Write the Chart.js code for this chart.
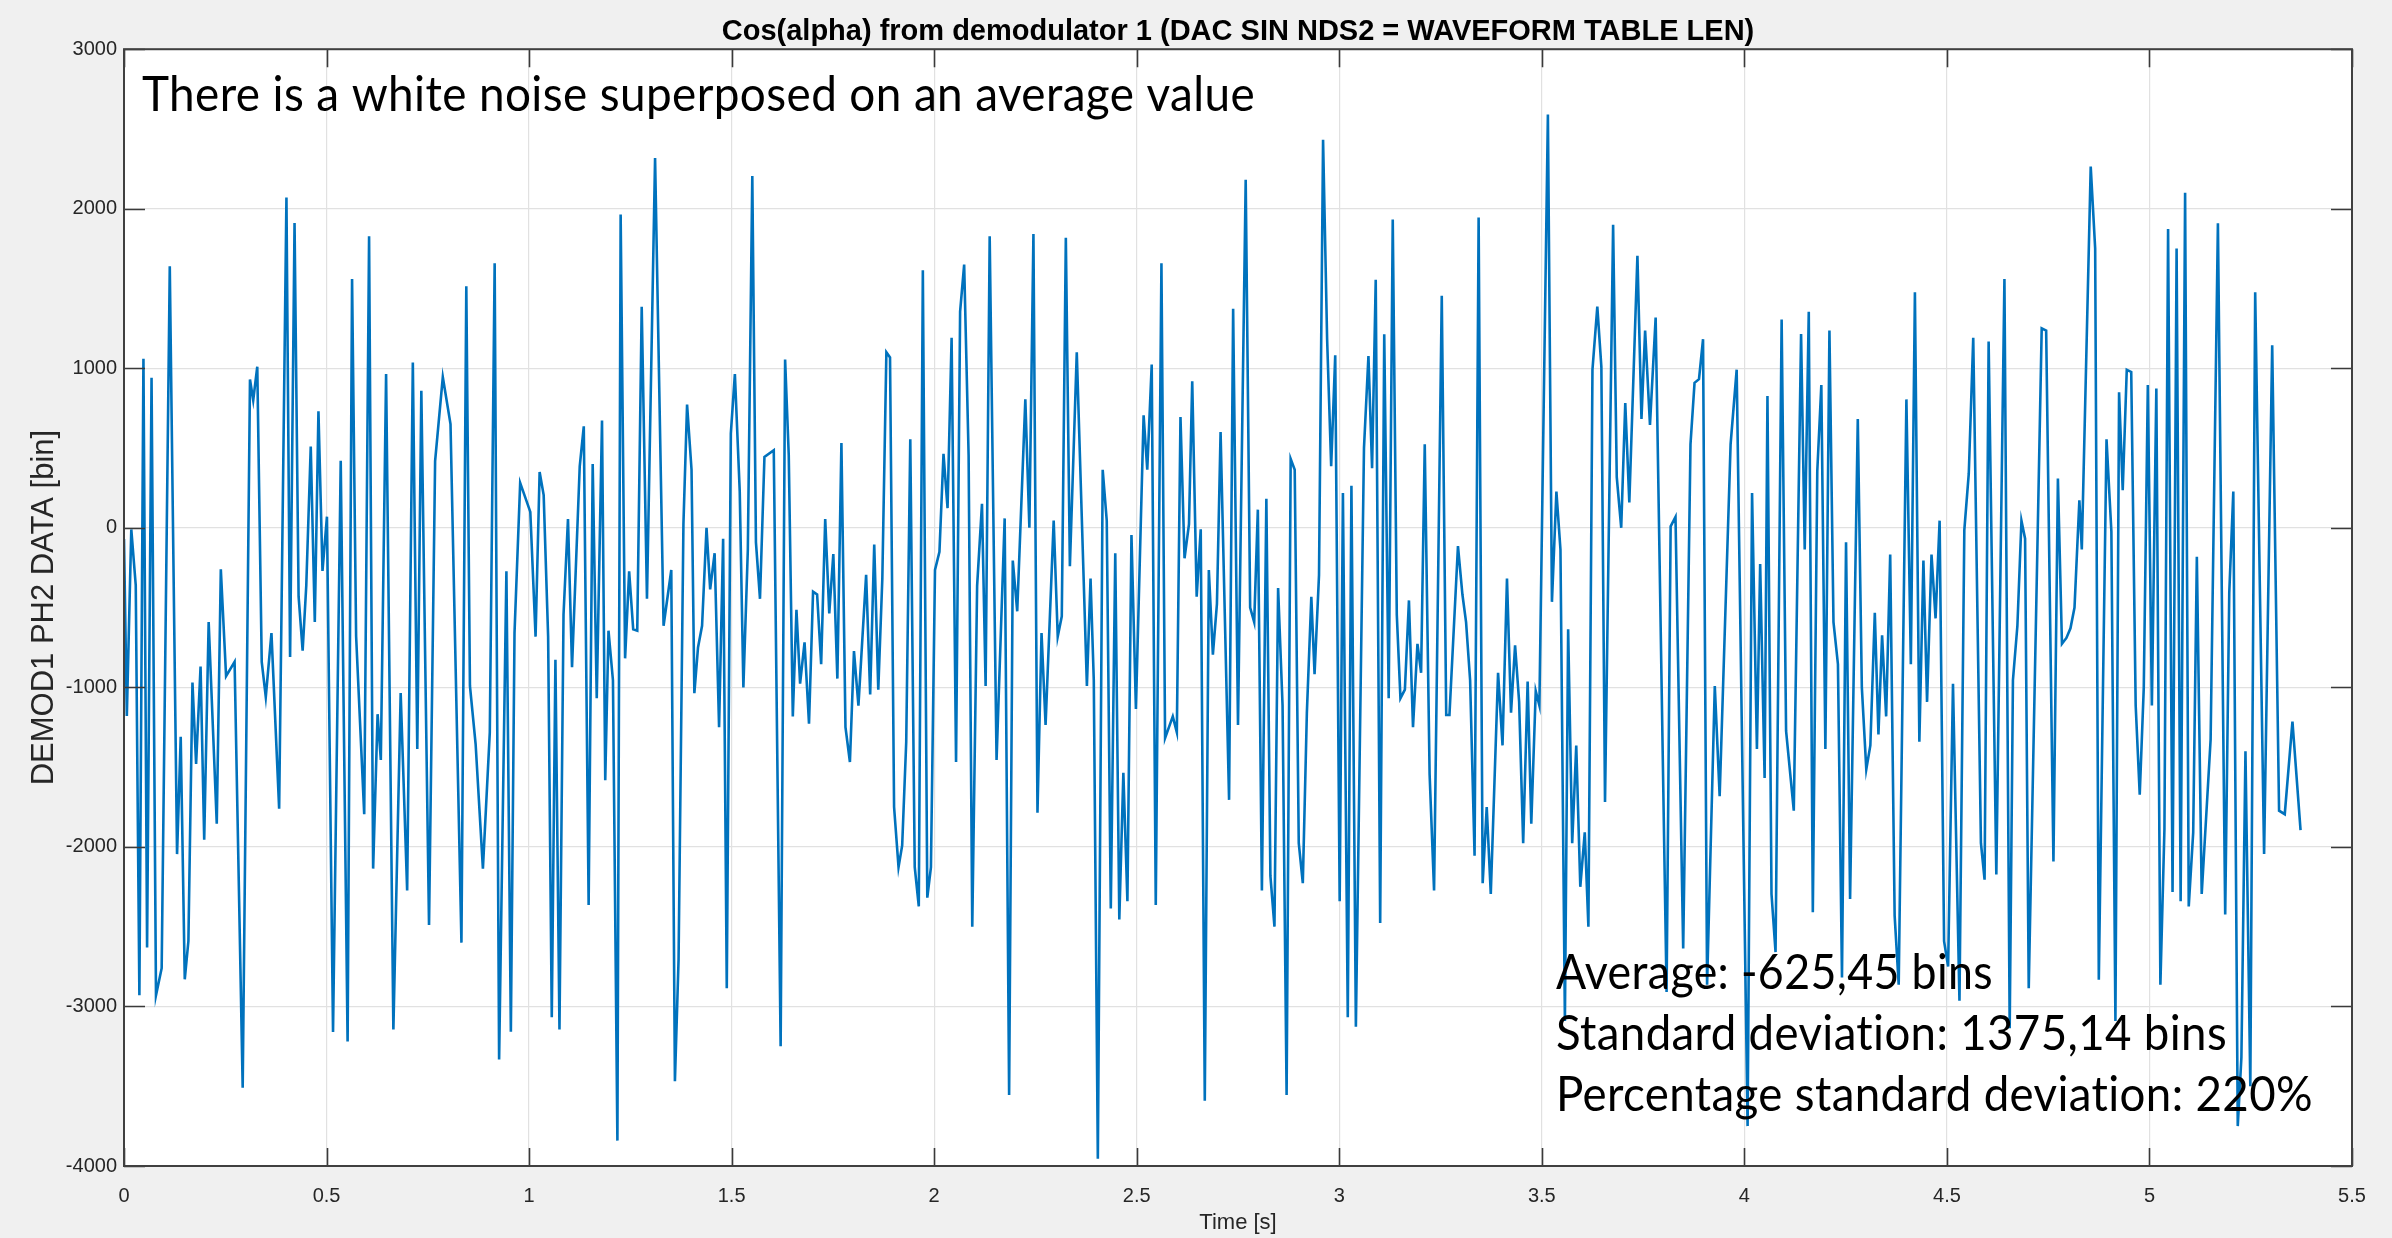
<!DOCTYPE html>
<html><head><meta charset="utf-8">
<script src="https://cdn.jsdelivr.net/npm/chart.js@4/dist/chart.umd.min.js"></script>
<style>
html,body{margin:0;padding:0;background:#f0f0f0;overflow:hidden;}
#wrap{position:relative;width:2392px;height:1238px;}
canvas{display:block;}
</style></head><body>
<div id="wrap"><canvas id="c" width="2392" height="1238"></canvas></div>
<script>
const titleText = 'Cos(alpha) from demodulator 1 (DAC SIN NDS2 = WAVEFORM TABLE LEN)';
const xLabel = 'Time [s]';
const yLabel = 'DEMOD1 PH2 DATA [bin]';
const xTicks = [0, 0.5, 1, 1.5, 2, 2.5, 3, 3.5, 4, 4.5, 5, 5.5];
const yTicks = [-4000, -3000, -2000, -1000, 0, 1000, 2000, 3000];
const noteTop = 'There is a white noise superposed on an average value';
const statLines = ['Average: -625,45 bins', 'Standard deviation: 1375,14 bins', 'Percentage standard deviation: 220%'];

const time = [
0.000,0.007,0.018,0.029,0.038,0.048,0.057,0.068,0.079,0.093,0.113,0.131,0.140,0.150,0.159,0.169,0.178,0.189,0.198,0.209,
0.229,0.239,0.252,0.273,0.293,0.311,0.319,0.329,0.340,0.350,0.364,0.383,0.401,0.410,0.421,0.431,0.441,0.450,0.461,0.471,
0.480,0.490,0.501,0.516,0.535,0.552,0.563,0.573,
0.593,0.605,0.615,0.626,0.634,0.647,0.665,0.683,0.699,0.713,0.724,0.734,0.753,0.768,0.787,0.806,0.833,0.845,0.854,0.868,
0.886,0.903,0.915,0.926,0.944,0.955,0.964,0.978,1.003,1.016,1.026,1.036,1.047,1.056,1.065,1.075,1.085,1.096,1.106,1.125,
1.135,1.147,1.157,1.167,1.180,1.188,1.196,
1.207,1.218,1.226,1.237,1.247,1.257,1.267,1.278,1.291,1.311,1.332,1.351,1.360,1.369,1.381,1.390,1.401,1.408,1.417,1.427,
1.438,1.447,1.458,1.469,1.479,1.488,1.498,1.508,1.520,1.529,1.540,1.551,1.560,1.570,1.581,1.604,1.621,1.632,1.641,1.651,
1.660,1.669,1.680,1.691,1.701,1.711,1.721,1.731,1.741,1.751,1.761,1.771,1.781,1.792,1.802,
1.813,1.832,1.842,1.852,1.862,1.872,1.882,1.891,1.901,1.912,1.921,1.931,1.941,1.952,1.962,1.972,1.983,1.992,2.002,2.013,
2.023,2.033,2.043,2.054,2.064,2.074,2.085,2.094,2.106,2.118,2.127,2.137,2.154,2.174,2.185,2.194,2.205,2.225,2.235,2.245,
2.255,2.265,2.275,2.295,2.305,2.315,2.325,2.335,2.352,2.377,2.386,2.394,2.404,
2.416,2.426,2.436,2.447,2.457,2.467,2.477,2.487,2.498,2.517,2.526,2.537,2.547,2.561,2.570,2.589,2.599,2.608,2.618,2.629,
2.637,2.648,2.658,2.668,2.678,2.688,2.698,2.707,2.728,2.738,2.750,2.769,2.780,2.790,2.799,2.809,2.820,2.830,2.840,2.849,
2.860,2.870,2.880,2.890,2.900,2.910,2.920,2.931,2.939,2.950,2.960,2.970,2.980,2.990,3.001,
3.009,3.021,3.030,3.041,3.061,3.072,3.081,3.090,3.101,3.111,3.122,3.132,3.142,3.151,3.162,3.172,3.182,3.193,3.202,3.211,
3.223,3.234,3.253,3.264,3.272,3.293,3.304,3.313,3.323,3.334,3.344,3.354,3.364,3.374,3.392,3.403,3.414,3.424,3.434,3.444,
3.454,3.465,3.474,3.485,3.494,3.515,3.525,3.536,3.546,3.557,3.565,3.575,3.585,3.595,
3.606,3.615,3.625,3.637,3.647,3.656,3.676,3.685,3.696,3.706,3.716,3.736,3.746,3.755,3.767,3.781,3.808,3.818,3.830,3.849,
3.867,3.877,3.888,3.898,3.908,3.927,3.939,3.966,3.981,4.008,4.019,4.031,4.039,4.050,4.057,4.067,4.077,4.092,4.103,4.122,
4.140,4.149,4.159,4.169,4.180,4.190,4.200,4.210,
4.220,4.231,4.241,4.251,4.261,4.280,4.290,4.301,4.311,4.322,4.331,4.340,4.350,4.360,4.371,4.381,4.400,4.411,4.421,4.432,
4.442,4.451,4.462,4.472,4.482,4.493,4.503,4.515,4.531,4.543,4.554,4.565,4.584,4.593,4.603,4.622,4.642,4.655,4.663,4.674,
4.684,4.693,4.702,4.734,4.745,4.763,4.774,4.784,4.795,4.805,4.815,
4.827,4.833,4.855,4.866,4.875,4.894,4.906,4.916,4.925,4.934,4.944,4.955,4.966,4.976,4.986,4.996,5.006,5.017,5.027,5.037,
5.046,5.057,5.067,5.077,5.088,5.097,5.108,5.117,5.129,5.151,5.169,5.187,5.197,5.207,5.218,5.227,5.237,5.249,5.261,5.283,
5.303,5.320,5.334,5.353,5.373
];

const demod = [
-70,-1180,-10,-360,-2930,1060,-2630,940,-2930,-2760,1640,-2045,-1310,-2830,-2590,-970,-1480,-870,-1955,-590,
-1855,-260,-930,-840,-3510,930,800,1010,-840,-1060,-660,-1760,2070,-810,1910,-430,-770,-360,510,-590,
730,-270,70,-3160,420,-3220,1560,-680,
-1795,1827,-2136,-1168,-1455,964,-3145,-1036,-2273,1036,-1386,859,-2490,418,945,650,-2600,1514,-991,-1355,
-2136,-1282,1659,-3332,-273,-3159,-659,282,100,-682,350,205,-682,-3068,-827,-3145,-545,55,-873,386,
636,-2364,400,-1068,673,-1582,-645,
-955,-3841,1964,-818,-273,-636,-645,1386,-445,2318,-614,-264,-3468,-2705,23,773,364,-1036,-750,-614,
0,-386,-159,-1250,-68,-2886,591,964,227,-1000,-136,2205,-91,-445,445,486,-3250,1055,455,-1182,
-514,-977,-718,-1227,-400,-418,-855,55,-536,-164,-945,532,-1250,-1468,-773,
-1114,-295,-1045,-105,-1014,-318,1100,1068,-1750,-2127,-1991,-1341,555,-2127,-2373,1614,-2318,-2127,-264,-150,
464,123,1191,-1468,1355,1650,455,-2500,-364,150,-991,1827,-1455,59,-3555,-205,-523,805,0,1841,
-1786,-659,-1236,45,-682,-555,1818,-241,1100,-991,-318,-955,-3955,
364,45,-2386,-159,-2455,-1536,-2341,-45,-1136,705,364,1023,-2364,1659,-1318,-1182,-1282,695,-191,23,
918,-432,-9,-3591,-264,-795,-477,600,-1705,1373,-1236,2182,-500,-591,114,-2273,182,-2182,-2500,-377,
-1114,-3555,432,364,-1977,-2227,-1159,-432,-918,-295,2432,1182,386,1082,-2341,
218,-3068,264,-3127,500,1077,373,1555,-2477,1214,-1068,1932,-545,-1068,-1014,-455,-1250,-727,-909,523,
-1545,-2273,1455,-1173,-1173,-114,-418,-591,-955,-2055,1945,-2227,-1750,-2295,-909,-1364,-318,-1159,-736,-1091,
-1977,-964,-1855,-1023,-1114,2591,-464,227,-136,-3091,-636,-1977,-1364,-2250,
-1909,-2500,991,1386,1009,-1718,1900,318,0,782,159,1705,682,1236,645,1318,-2909,9,68,-2636,
523,909,932,1182,-2864,-991,-1682,523,991,-3750,218,-1386,-227,-1568,827,-2295,-2659,1305,-1273,-1773,
1214,-136,1355,-2409,355,895,-1386,1236,
-591,-855,-2818,-91,-2327,682,-1000,-1514,-1364,-532,-1295,-673,-1182,-168,-2432,-2864,805,-855,1477,-1341,
-205,-1091,-168,-568,45,-2591,-2750,-977,-2964,-14,341,1191,-1977,-2205,1168,-2173,1559,-3136,-955,-614,
45,-68,-2886,1250,1236,-2091,309,-727,-690,-630,-500,
173,-136,2264,1750,-2832,555,-23,-3091,850,236,991,977,-1114,-1673,-1000,895,-1114,873,-2864,-1886,
1873,-2282,1750,-2341,2100,-2373,-1909,-182,-2295,-1327,1909,-2423,-409,227,-3750,-3318,-1400,-3500,1477,-2045,
1145,-1773,-1795,-1214,-1895
];

const points = time.map((t, i) => ({x: t, y: demod[i]}));

const MATLAB_FONT = 'Liberation Sans, Arial, Helvetica, sans-serif';

const boxPlugin = {
  id: 'matlabBox',
  beforeDraw(chart) {
    const {ctx, chartArea: a} = chart;
    ctx.save();
    ctx.fillStyle = '#ffffff';
    ctx.fillRect(a.left, a.top, a.right - a.left, a.bottom - a.top);
    ctx.restore();
  },
  afterDatasetsDraw(chart) {
    const {ctx, chartArea: a, scales} = chart;
    const xs = scales.x, ys = scales.y;
    const xtl = 18, ytl = 21;
    ctx.save();
    ctx.strokeStyle = '#3a3a3a';
    ctx.lineWidth = 1.6;
    ctx.beginPath();
    xs.ticks.forEach(t => {
      const px = Math.round(xs.getPixelForValue(t.value)) + 0.5;
      ctx.moveTo(px, a.bottom); ctx.lineTo(px, a.bottom - xtl);
      ctx.moveTo(px, a.top); ctx.lineTo(px, a.top + xtl);
    });
    ys.ticks.forEach(t => {
      const py = Math.round(ys.getPixelForValue(t.value)) + 0.5;
      ctx.moveTo(a.left, py); ctx.lineTo(a.left + ytl, py);
      ctx.moveTo(a.right, py); ctx.lineTo(a.right - ytl, py);
    });
    ctx.stroke();
    ctx.lineWidth = 2;
    ctx.strokeStyle = '#404040';
    ctx.strokeRect(a.left, a.top, a.right - a.left, a.bottom - a.top);
    ctx.restore();
  }
};

function fitText(ctx, text, x, baseline, targetW, size) {
  ctx.font = size + 'px Lato, "Open Sans", sans-serif';
  if ('letterSpacing' in ctx) ctx.letterSpacing = '0.4px';
  const w = ctx.measureText(text).width;
  ctx.save();
  ctx.translate(x, baseline);
  ctx.scale(targetW / w, 1);
  ctx.fillText(text, 0, 0);
  ctx.restore();
}

const notesPlugin = {
  id: 'notes',
  afterDraw(chart) {
    const ctx = chart.ctx;
    ctx.save();
    ctx.fillStyle = '#000000';
    ctx.textAlign = 'left';
    ctx.textBaseline = 'alphabetic';
    fitText(ctx, noteTop, 142, 111, 1113, 49);
    const widths = [437, 671, 757];
    const bases = [989, 1050, 1111];
    statLines.forEach((s, i) => fitText(ctx, s, 1556, bases[i], widths[i], 49));
    ctx.restore();
  }
};

new Chart(document.getElementById('c'), {
  type: 'line',
  data: {
    datasets: [{
      data: points,
      borderColor: '#0072BD',
      borderWidth: 2.6,
      pointRadius: 0,
      tension: 0,
      fill: false
    }]
  },
  options: {
    responsive: false,
    animation: false,
    devicePixelRatio: 1,
    layout: {padding: {left: 0, right: 40, top: 0, bottom: 0}},
    plugins: {
      legend: {display: false},
      tooltip: {enabled: false},
      title: {
        display: true,
        fullSize: false,
        text: titleText,
        color: '#000000',
        font: {family: MATLAB_FONT, size: 29, weight: 'bold'},
        padding: {top: 14.4, bottom: 0}
      }
    },
    scales: {
      x: {
        type: 'linear',
        min: 0, max: 5.5,
        afterBuildTicks: s => { s.ticks = xTicks.map(v => ({value: v})); },
        afterFit: s => { s.height = 72; },
        ticks: {
          color: '#262626',
          font: {family: MATLAB_FONT, size: 20},
          padding: 18,
          maxRotation: 0,
          autoSkip: false,
          callback: v => String(v)
        },
        grid: {color: '#e1e1e1', lineWidth: 1.2, drawTicks: false},
        border: {display: false},
        title: {
          display: true, text: xLabel, color: '#262626',
          font: {family: MATLAB_FONT, size: 22},
          padding: {top: 4, bottom: 1.5}
        }
      },
      y: {
        type: 'linear',
        min: -4000, max: 3000,
        afterBuildTicks: s => { s.ticks = yTicks.map(v => ({value: v})); },
        afterFit: s => { s.width = 124; },
        ticks: {
          color: '#262626',
          font: {family: MATLAB_FONT, size: 20},
          padding: 7,
          autoSkip: false,
          callback: v => String(v)
        },
        grid: {color: '#e1e1e1', lineWidth: 1.2, drawTicks: false},
        border: {display: false},
        title: {
          display: true, text: yLabel, color: '#262626',
          font: {family: MATLAB_FONT, size: 31},
          padding: {top: 26, bottom: 4}
        }
      }
    }
  },
  plugins: [boxPlugin, notesPlugin]
});
</script>
</body></html>
